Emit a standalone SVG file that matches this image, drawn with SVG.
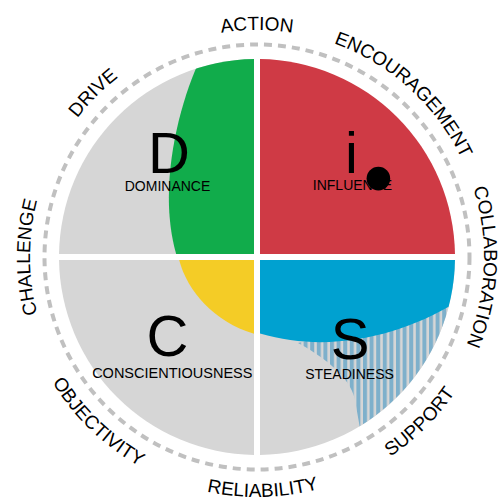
<svg xmlns="http://www.w3.org/2000/svg" width="498" height="499" viewBox="0 0 498 499">
<style>
.q{fill:#d6d6d6}
.big{font-family:"Liberation Sans",Arial,sans-serif;font-size:58px;fill:#000;text-anchor:middle}
.sm{font-family:"Liberation Sans",Arial,sans-serif;font-size:14px;fill:#000;text-anchor:middle}
.lab{font-family:"Liberation Sans",Arial,sans-serif;font-size:19px;fill:#000;text-anchor:middle}
</style>
<defs>
<clipPath id="cTL"><path d="M254,254 L59.02,254 A198 198 0 0 1 254,59.02 Z"/></clipPath>
<clipPath id="cBL"><path d="M254,260 L254,454.98 A198 198 0 0 1 59.02,260 Z"/></clipPath>
<clipPath id="cBR"><path d="M260,260 L454.98,260 A198 198 0 0 1 260,454.98 Z"/></clipPath>
<pattern id="stripes" patternUnits="userSpaceOnUse" x="0" y="0" width="6.6" height="10">
<rect x="0" y="0" width="6.6" height="10" fill="#d6d6d6"/>
<rect x="0" y="0" width="4" height="10" fill="#7eb0cb"/>
</pattern>
<path id="pA" d="M257,484 A227 227 0 1 1 257,30 A227 227 0 1 1 257,484"/>
<path id="pB" d="M257,17 A240 240 0 1 0 257,497 A240 240 0 1 0 257,17"/>
</defs>

<circle id="ring" cx="257" cy="257" r="212.5" fill="none" stroke="#c0c0c0" stroke-width="4" stroke-dasharray="8 6"/>

<g id="quadrant-D">
<path class="q" d="M254,254 L59.02,254 A198 198 0 0 1 254,59.02 Z"/>
<path clip-path="url(#cTL)" fill="#11ac4b" d="M202,55 C180,100 155,190 178,260 L262,260 L262,40 Z"/>
<text class="big" x="169" y="173">D</text>
<text class="sm" x="167.5" y="190.5">DOMINANCE</text>
</g>

<g id="quadrant-i">
<path fill="#cf3a45" d="M260,254 L260,59.02 A198 198 0 0 1 454.98,254 Z"/>
<text class="big" x="351.5" y="173">i</text>
<text class="sm" x="352.5" y="190">INFLUENCE</text>
<circle cx="378.4" cy="178.6" r="11.8" fill="#000"/>
</g>

<g id="quadrant-C">
<path class="q" d="M254,260 L254,454.98 A198 198 0 0 1 59.02,260 Z"/>
<path clip-path="url(#cBL)" fill="#f4cc26" d="M178,255 C185,290 215,325 262,336 L262,255 Z"/>
<text class="big" x="167.5" y="356">C</text>
<text class="sm" x="172.3" y="378" style="font-size:14.5px">CONSCIENTIOUSNESS</text>
</g>

<g id="quadrant-S">
<path class="q" d="M260,260 L454.98,260 A198 198 0 0 1 260,454.98 Z"/>
<g clip-path="url(#cBR)">
<path fill="url(#stripes)" d="M298,343 C320,355 350,375 355,400 L362,440 L470,440 L470,300 Z"/>
<path fill="#00a1d0" d="M255,255 L465,255 L465,298 L460,300 C405,335 330,355 258,333 L255,333 Z"/>
</g>
<text class="big" x="350" y="359">S</text>
<text class="sm" x="349.5" y="379">STEADINESS</text>
</g>

<g id="labels">
<text class="lab"><textPath href="#pA" startOffset="50%">ACTION</textPath></text>
<text class="lab"><textPath href="#pA" startOffset="37.5%">DRIVE</textPath></text>
<text class="lab"><textPath href="#pA" startOffset="25%">CHALLENGE</textPath></text>
<text class="lab"><textPath href="#pA" startOffset="61.67%">ENCOURAGEMENT</textPath></text>
<text class="lab"><textPath href="#pA" startOffset="75.7%">COLLABORATION</textPath></text>
<text class="lab"><textPath href="#pB" startOffset="37.8%">OBJECTIVITY</textPath></text>
<text class="lab"><textPath href="#pB" startOffset="50.4%">RELIABILITY</textPath></text>
<text class="lab"><textPath href="#pB" startOffset="62.4%">SUPPORT</textPath></text>
</g>
</svg>
